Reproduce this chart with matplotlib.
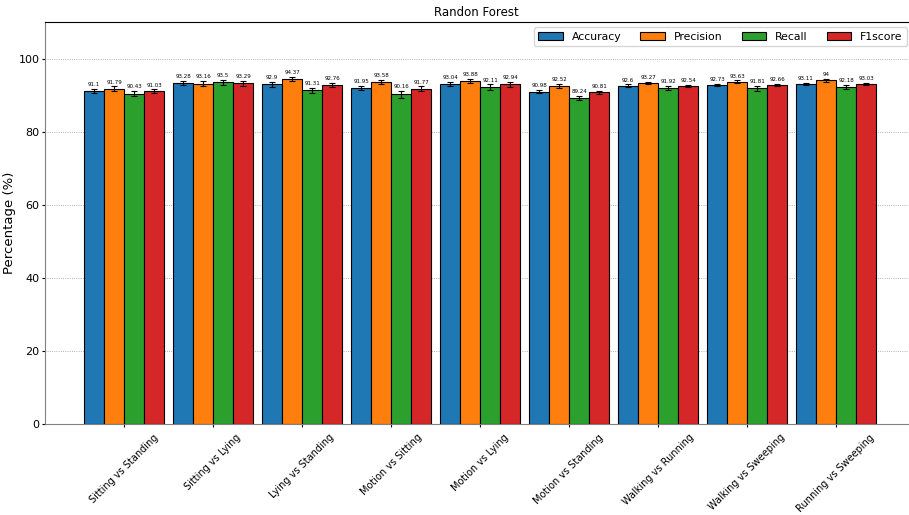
import numpy as np
import matplotlib.pyplot as plt

# comparaciones y metricas
pares = ['Sitting vs Standing', 'Sitting vs Lying', 'Lying vs Standing', 'Motion vs Sitting',
         'Motion vs Lying', 'Motion vs Standing', 'Walking vs Running', 'Walking vs Sweeping',
         'Running vs Sweeping']
metricas = ['Accuracy', 'Precision', 'Recall', 'F1score']

accuracy = [91.1, 93.28, 92.9, 91.95, 93.04, 90.98, 92.6, 92.73, 93.11]
precision = [91.79, 93.16, 94.37, 93.58, 93.88, 92.52, 93.27, 93.63, 94]
recall = [90.43, 93.5, 91.31, 90.16, 92.11, 89.24, 91.92, 91.81, 92.18]
f1score = [91.03, 93.29, 92.76, 91.77, 92.94, 90.81, 92.54, 92.66, 93.03]

# desvio padrao (estimado)
std_acc = [0.5, 0.6, 0.6, 0.5, 0.6, 0.5, 0.3, 0.3, 0.3]
std_prec = [0.6, 0.7, 0.6, 0.6, 0.6, 0.5, 0.3, 0.4, 0.5]
std_rec = [0.7, 0.7, 0.7, 0.9, 0.8, 0.6, 0.5, 0.6, 0.5]
std_f1 = [0.5, 0.7, 0.6, 0.6, 0.6, 0.4, 0.3, 0.3, 0.3]

valores = [accuracy, precision, recall, f1score]
desvios = [std_acc, std_prec, std_rec, std_f1]
cores = ['#1f77b4', '#ff7f0e', '#2ca02c', '#d62728']

fig = plt.figure(figsize=(9.09, 5.15), dpi=100)
ax = fig.add_axes([0.0495, 0.1767, 0.9495, 0.7806])

x = np.arange(len(pares))
w = 0.225
for i in range(4):
    pos = x + (i - 1.5) * w
    ax.bar(pos, valores[i], w, yerr=desvios[i], color=cores[i], edgecolor='black',
           linewidth=0.8, capsize=2, error_kw={'elinewidth': 0.8, 'capthick': 0.8},
           label=metricas[i], zorder=3)
    for p, v, e in zip(pos, valores[i], desvios[i]):
        ax.text(p, v + e + 0.5, f'{v:g}', ha='center', va='bottom', fontsize=4, zorder=4)

ax.set_xlim(-0.89, 8.81)
ax.set_ylim(0, 110)
ax.set_yticks([0, 20, 40, 60, 80, 100])
ax.set_xticks(x)
ax.set_xticklabels(pares, rotation=45, fontsize=7)
ax.tick_params(axis='y', labelsize=8, pad=1.5)
ax.tick_params(length=2.5, width=0.8)
ax.set_ylabel('Percentage (%)', fontsize=9.5, labelpad=2)
ax.set_title('Randon Forest', fontsize=8.5, pad=4)
ax.yaxis.grid(True, linestyle=':', color='grey', linewidth=0.6, alpha=0.8, zorder=0)

ax.spines['right'].set_visible(False)
ax.spines['left'].set_color('grey')
ax.spines['bottom'].set_color('grey')
ax.spines['top'].set_linewidth(0.8)

ax.legend(loc='upper right', ncol=4, fontsize=7.8, handlelength=2.3, handletextpad=0.8,
          columnspacing=1.75, bbox_to_anchor=(1.005, 1.0))

fig.savefig('out.png', dpi=100)
